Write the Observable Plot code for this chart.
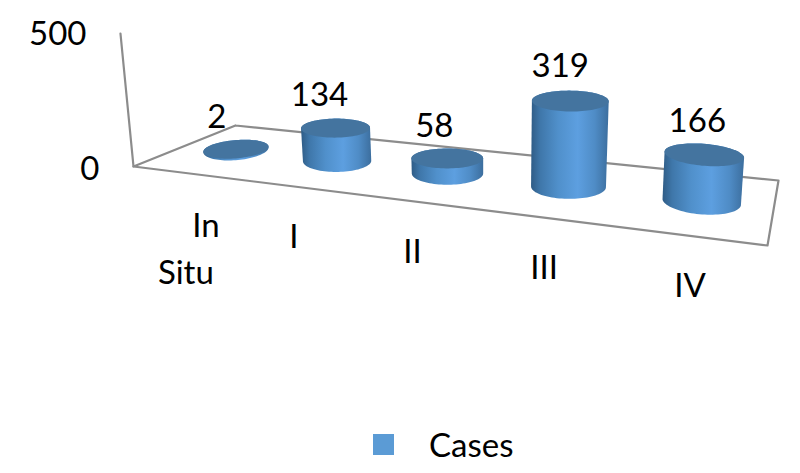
<!DOCTYPE html>
<html>
<head>
<meta charset="utf-8">
<style>
  html, body { margin: 0; padding: 0; background: #fff; }
  #chart svg { display: block; }
  #legend { position: relative; height: 48px; width: 800px; font-family: Lato, sans-serif; font-size: 33px; color: #000; }
  #legend .sw { position: absolute; left: 373px; top: 9px; width: 21px; height: 21px; background: #5b9bd5; }
  #legend .tx { position: absolute; left: 429px; top: -1px; line-height: 40px; }
</style>
<script src="https://cdn.jsdelivr.net/npm/d3@7"></script>
<script src="https://cdn.jsdelivr.net/npm/@observablehq/plot@0.6"></script>
</head>
<body>
<div id="chart"></div>
<div id="legend"><span class="sw"></span><span class="tx">Cases</span></div>
<script>
const categories = ["In Situ", "I", "II", "III", "IV"];
const cases = [2, 134, 58, 319, 166];
const axisTicks = [0, 500];

// Camera: projective map of the chart's floor (u along categories, d into depth)
const floorCorners = {p00: [133, 166], p10: [767, 245], p11: [778, 180], p01: [235, 125]};
const {p00, p10, p11, p01} = floorCorners;
const sx = p00[0] - p10[0] + p11[0] - p01[0], sy = p00[1] - p10[1] + p11[1] - p01[1];
const dx1 = p10[0] - p11[0], dx2 = p01[0] - p11[0], dy1 = p10[1] - p11[1], dy2 = p01[1] - p11[1];
const den = dx1 * dy2 - dx2 * dy1;
const g = (sx * dy2 - dx2 * sy) / den, h = (dx1 * sy - sx * dy1) / den;
const W = (u, d) => 1 + g * u + h * d;
const project = (u, d) => {
  const w = W(u, d);
  return [
    ((p10[0] - p00[0] + g * p10[0]) * u + (p01[0] - p00[0] + h * p01[0]) * d + p00[0]) / w,
    ((p10[1] - p00[1] + g * p10[1]) * u + (p01[1] - p00[1] + h * p01[1]) * d + p00[1]) / w
  ];
};

const RX = 34.8, RY = 9.7;
const HEIGHT_K = 0.25, AXIS_K = 0.266;
const lean = (u) => -0.098 + 0.17 * u;
const tiltOf = (i) => 0.6 * Math.pow(i - 2, 3);

function ellipsePoint(c, rx, ry, deg, tilt) {
  const t = deg * Math.PI / 180, p = tilt * Math.PI / 180;
  const a = rx * Math.cos(t), b = ry * Math.sin(t);
  return [c[0] + a * Math.cos(p) - b * Math.sin(p), c[1] + a * Math.sin(p) + b * Math.cos(p)];
}

const cylinders = cases.map((v, i) => {
  const u = (i + 0.5) / categories.length, w = W(u, 0.5);
  const base = project(u, 0.5), hgt = v * HEIGHT_K / w;
  const top = [base[0] + hgt * lean(u), base[1] - hgt];
  const rx = RX / w, ry = RY / w, tilt = tiltOf(i);
  const rxTop = rx * (1 + hgt * 0.0003);
  return {i, v, u, base, top, rx, ry, rxTop, tilt, hgt};
});

const bodyRows = [], capRows = [];
for (const c of cylinders) {
  for (const a of d3.range(0, 181, 4)) {
    const p = ellipsePoint(c.base, c.rx, c.ry * 1.15, a, c.tilt);
    bodyRows.push({id: c.i, x: p[0], y: p[1]});
  }
  for (const a of d3.range(180, 361, 4)) {
    const p = ellipsePoint(c.top, c.rxTop, c.ry, a, c.tilt);
    bodyRows.push({id: c.i, x: p[0], y: p[1]});
  }
  for (const a of d3.range(0, 361, 4)) {
    const p = ellipsePoint(c.top, c.rxTop, c.ry, a, c.tilt);
    capRows.push({id: c.i, x: p[0], y: p[1]});
  }
}

const floorFrame = [[0, 1], [0, 0], [1, 0], [1, 1], [0, 1]].map(([u, d]) => {
  const [x, y] = project(u, d);
  return {x, y};
});
const axisRows = axisTicks.map((t) => {
  const hgt = t * AXIS_K;
  return {t, x: p00[0] + hgt * lean(0), y: p00[1] - hgt};
});
const axisLabels = axisRows.map((d) => ({t: d.t, x: d.x, y: d.y + (d.t === 0 ? 2 : 0)}));

const valueLabels = cylinders.map((c) => ({
  text: String(c.v),
  x: c.top[0] - 19 + 3 * c.i,
  y: c.top[1] - 32 - c.hgt * 0.03
}));

const categoryLabels = categories.flatMap((name, i) => {
  const [x, y] = project((i + 0.5) / categories.length, 0);
  const words = name.split(" ");
  return words.map((word, k) => ({
    text: word,
    x: x + (words.length > 1 && k === 0 ? 22 : 2),
    y: y + (words.length > 1 ? 54 + k * 47 : 51)
  }));
});

const gradient = () => {
  const defs = d3.create("svg:defs");
  const lg = defs.append("linearGradient").attr("id", "cyl").attr("x1", 0).attr("x2", 1).attr("y1", 0).attr("y2", 0);
  [[0, "#2f5c86"], [0.12, "#3f77aa"], [0.35, "#5090cb"], [0.6, "#5d9fe0"], [0.82, "#4f8cc6"], [1, "#3c6e9e"]]
    .forEach(([o, col]) => lg.append("stop").attr("offset", o).attr("stop-color", col));
  return defs.node();
};

const textStyle = {fontFamily: "Lato, sans-serif", fontSize: 33, fill: "#000", lineAnchor: "middle"};

const plot = Plot.plot({
  width: 800,
  height: 425,
  margin: 0,
  x: {domain: [0, 800], range: [0, 800], axis: null},
  y: {domain: [0, 425], range: [0, 425], axis: null},
  marks: [
    gradient,
    Plot.line(floorFrame, {x: "x", y: "y", stroke: "#8c8c8c", strokeWidth: 2.2}),
    Plot.line(axisRows, {x: "x", y: "y", stroke: "#8c8c8c", strokeWidth: 2.2}),
    Plot.line(bodyRows, {x: "x", y: "y", z: "id", fill: "url(#cyl)", stroke: "none"}),
    Plot.line(capRows, {x: "x", y: "y", z: "id", fill: "#44749f", stroke: "none"}),
    Plot.text(axisLabels, {x: "x", y: "y", text: (d) => String(d.t), textAnchor: "end", dx: -34, dy: 1, ...textStyle}),
    Plot.text(valueLabels, {x: "x", y: "y", text: "text", ...textStyle}),
    Plot.text(categoryLabels, {x: "x", y: "y", text: "text", ...textStyle})
  ]
});
document.getElementById("chart").appendChild(plot);
</script>
</body>
</html>
